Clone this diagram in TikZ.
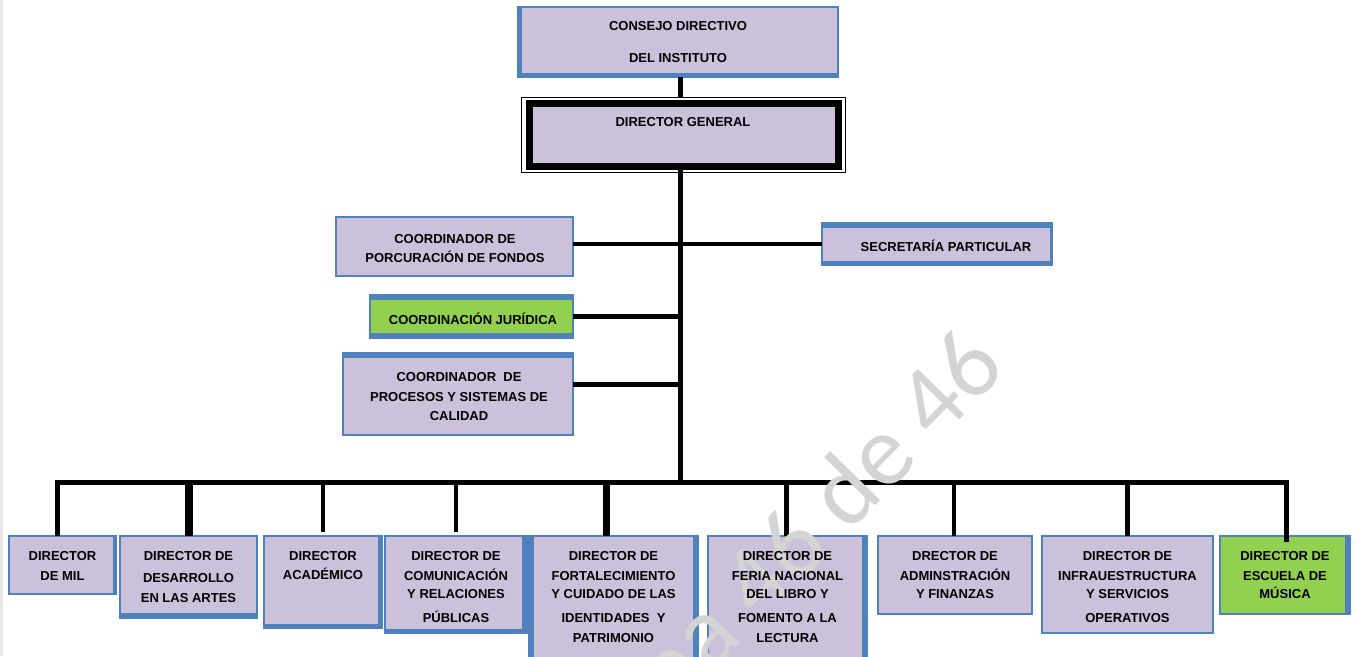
\documentclass[tikz,border=0pt]{standalone}
\usepackage{fontspec}
\setmainfont{Liberation Sans}
\newfontfamily\wmfont{Carlito}
\definecolor{lav}{HTML}{CCC1DA}
\definecolor{edgeblue}{HTML}{4F81BD}
\definecolor{grn}{HTML}{92D050}
\definecolor{wmgray}{HTML}{D4D4D4}
\newcommand\bxL[2]{\fill[edgeblue] (#1.north west) rectangle ([xshift=#2]#1.south west);}
\newcommand\bxR[2]{\fill[edgeblue] (#1.north east) rectangle ([xshift=-#2]#1.south east);}
\newcommand\bxT[2]{\fill[edgeblue] (#1.north west) rectangle ([yshift=-#2]#1.north east);}
\newcommand\bxB[2]{\fill[edgeblue] (#1.south west) rectangle ([yshift=#2]#1.south east);}
\begin{document}
\begin{tikzpicture}[x=1pt,y=-1pt,
  box/.style={rectangle, draw=edgeblue, line width=1.2pt, fill=lav, inner sep=0pt, outer sep=0pt, anchor=north west},
  gbox/.style={box, fill=grn},
  lbl/.style={align=center, inner sep=0pt, outer sep=0pt, font=\fontsize{13}{20}\selectfont\bfseries, anchor=base},
  conn/.style={draw=black, line width=4.5pt},
  wm/.style={font=\wmfont\fontsize{101}{101}\selectfont, inner sep=0pt, rotate=45.5, anchor=base west}]
\useasboundingbox (0,0) rectangle (1356,656);
\fill[white] (0,0) rectangle (1356,656);
\fill[gray!18] (0,0) rectangle (3,656);

% boxes
\node[box, minimum width=320pt, minimum height=70pt] (consejo) at (518,7) {};
\bxL{consejo}{4pt}\bxB{consejo}{4pt}
\node[rectangle, draw=black, line width=1.2pt, inner sep=0pt, outer sep=0pt, anchor=north west, minimum width=324pt, minimum height=75pt] (dgo) at (521.5,97.5) {};
\node[rectangle, draw=black, fill=lav, line width=7pt, inner sep=0pt, outer sep=0pt, anchor=north west, minimum width=309pt, minimum height=63pt] (dg) at (529.5,103.5) {};
\node[box, minimum width=237pt, minimum height=59pt] (porc) at (336,217) {};
\node[box, minimum width=230pt, minimum height=42pt] (secr) at (822,223) {};
\bxT{secr}{5pt}\bxB{secr}{4pt}\bxR{secr}{2pt}
\node[gbox, minimum width=203pt, minimum height=43pt] (jur) at (370,295) {};
\bxT{jur}{5pt}\bxB{jur}{5pt}
\node[box, minimum width=230pt, minimum height=82pt] (proc) at (343,353) {};
\bxT{proc}{5pt}
\node[box, minimum width=107pt, minimum height=58pt] (mil) at (9,536) {};
\bxR{mil}{3pt}
\node[box, minimum width=137pt, minimum height=82pt] (desa) at (120,536) {};
\bxB{desa}{5pt}
\node[box, minimum width=118pt, minimum height=92pt] (acad) at (264,536) {};
\bxR{acad}{4pt}\bxB{acad}{4pt}
\node[box, minimum width=142pt, minimum height=97pt] (com) at (385,536) {};
\bxR{com}{5pt}\bxB{com}{4pt}
\node[box, minimum width=169pt, minimum height=130pt] (fort) at (529,536) {};
\bxL{fort}{5pt}\bxR{fort}{5pt}
\node[box, minimum width=159pt, minimum height=130pt] (feria) at (708,536) {};
\bxR{feria}{5pt}
\node[box, minimum width=154pt, minimum height=78pt] (admin) at (878,536) {};
\node[box, minimum width=171pt, minimum height=97pt] (infra) at (1042,536) {};
\node[gbox, minimum width=130pt, minimum height=78pt] (esc) at (1220,536) {};
\bxR{esc}{5pt}

% connectors
\coordinate (sx) at (680.5,0);
\coordinate (bus) at (0,482);
\draw[conn, line width=5pt] (sx |- consejo.south) -- (sx |- dgo.north);
\draw[conn] (sx |- dg.south) -- (sx |- bus);
\draw[conn] (porc.east |- secr.west) -- (secr.west);
\draw[conn] (jur.east) -- (jur.east -| sx);
\draw[conn] ([yshift=9.5pt]proc.east) -- ([yshift=9.5pt]proc.east -| sx);
\draw[conn, line width=5pt, line join=miter] ([xshift=-5pt]mil.north) -- ([xshift=-5pt]mil.north |- bus) -- ([xshift=1.5pt]esc.north |- bus) -- ([xshift=1.5pt,yshift=-6pt]esc.north);
\draw[conn, line width=8pt] (desa.north |- bus) -- (desa.north);
\draw[conn, line width=4pt] (acad.north |- bus) -- ([yshift=4pt]acad.north);
\draw[conn] (com.north |- bus) -- ([yshift=4pt]com.north);
\draw[conn, line width=7pt] ([xshift=-7pt]fort.north |- bus) -- ([xshift=-7pt]fort.north);
\draw[conn] ([xshift=-1pt]feria.north |- bus) -- ([xshift=-1pt]feria.north);
\draw[conn] ([xshift=-1pt]admin.north |- bus) -- ([xshift=-1pt]admin.north);
\draw[conn] (infra.north |- bus) -- (infra.north);

% watermark
\begin{scope}
\clip (0,0) rectangle (1356,656);
\node[wm, text=wmgray] (wmark) at (555,832) {Página 46 de 46};
\end{scope}

% labels
\node[lbl] (consejot) at (678,62.6) {CONSEJO DIRECTIVO\\[12pt]DEL INSTITUTO};
\node[lbl] (dgt) at (683,126.6) {DIRECTOR GENERAL};
\node[lbl, font=\fontsize{13}{19.4}\selectfont\bfseries] (porct) at (455,262.4) {COORDINADOR DE\\PORCURACIÓN DE FONDOS};
\node[lbl] (secrt) at (946,251.6) {SECRETARÍA PARTICULAR};
\node[lbl] (jurt) at (473,324.6) {COORDINACIÓN JURÍDICA};
\node[lbl, font=\fontsize{13}{19.5}\selectfont\bfseries] (proct) at (459,420.6) {COORDINADOR \ DE\\PROCESOS Y SISTEMAS DE\\CALIDAD};
\node[lbl] (milt) at (62.5,580.6) {DIRECTOR\\DE MIL};
\node[lbl] (desat) at (188.5,602.6) {DIRECTOR DE\\[2pt]DESARROLLO\\EN LAS ARTES};
\node[lbl] (acadt) at (323,579.6) {DIRECTOR\\[-1pt]ACADÉMICO};
\node[lbl] (comt) at (456,622.6) {DIRECTOR DE\\COMUNICACIÓN\\[-2pt]Y RELACIONES\\[4pt]PÚBLICAS};
\node[lbl] (fortt) at (613.5,642.6) {DIRECTOR DE\\FORTALECIMIENTO\\[-2pt]Y CUIDADO DE LAS\\[4pt]IDENTIDADES \ Y\\PATRIMONIO};
\node[lbl] (feriat) at (787.5,642.6) {DIRECTOR DE\\FERIA NACIONAL\\[-2pt]DEL LIBRO Y\\[4pt]FOMENTO A LA\\LECTURA};
\node[lbl] (admint) at (955,598.6) {DRECTOR DE\\ADMINSTRACIÓN\\[-2pt]Y FINANZAS};
\node[lbl] (infrat) at (1127.5,622.6) {DIRECTOR DE\\INFRAUESTRUCTURA\\[-2pt]Y SERVICIOS\\[4pt]OPERATIVOS};
\node[lbl] (esct) at (1285,598.6) {DIRECTOR DE\\ESCUELA DE\\[-2pt]MÚSICA};
\end{tikzpicture}
\end{document}
